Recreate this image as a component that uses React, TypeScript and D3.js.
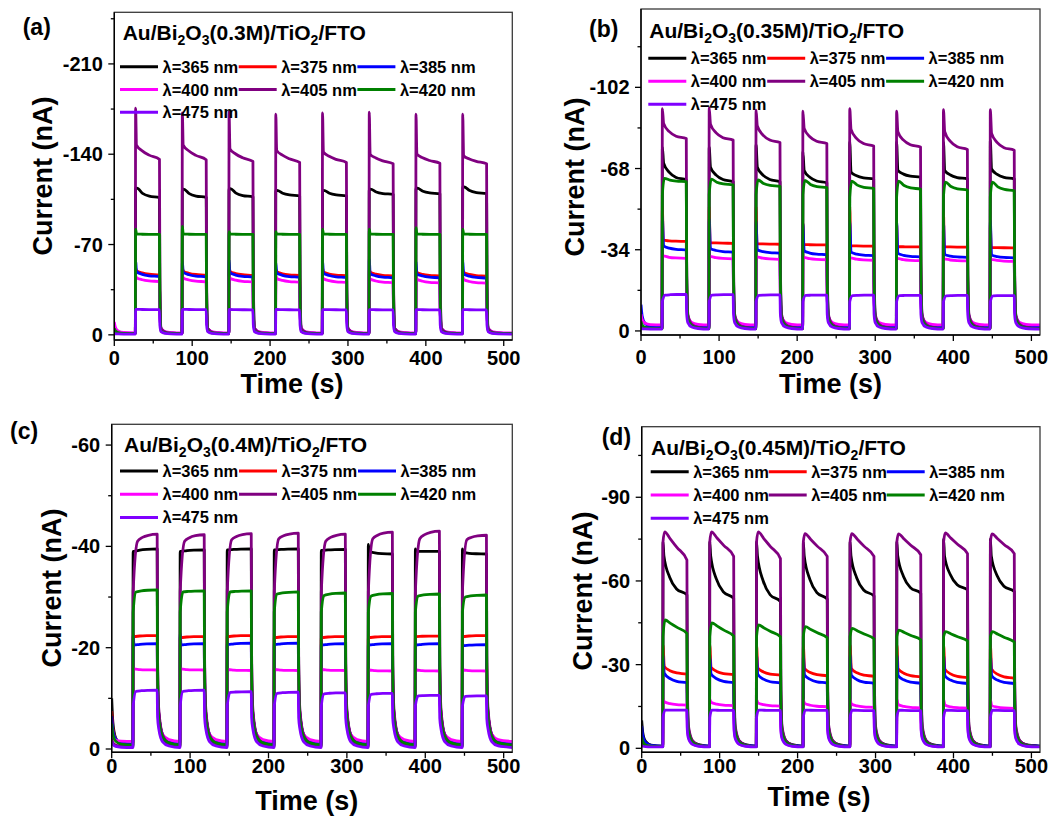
import React from "react";
import * as d3 from "d3";

// ---------- shared data ----------
const ON_TIMES = [27, 87, 147, 207, 267, 327, 387, 447];
const OFF_TIMES = [58, 118, 178, 238, 298, 358, 418, 478];
const T_MAX = 511;
const WAVELENGTHS = [365, 375, 385, 400, 405, 420, 475];
const SERIES_COLORS = ["#000000", "#ff0000", "#0000ff", "#ff00ff", "#800080", "#008000", "#8000ff"];
const X_TICKS = [0, 100, 200, 300, 400, 500];
const X_MINOR = [50, 150, 250, 350, 450];

// ---------- panel (a) 0.3M ----------
const A_CONC = "0.3M";
const A_Y_TICKS = [0, -70, -140, -210];
const A_Y_MINOR = [-35, -105, -175, -245];
const A_PROFILE = ["exp", "exp", "exp", "exp", "mid", "exp", "exp"];
const A_T1 = [2, 1.5, 1.5, 1.5, 1.5, 1.5, 1.5];
const A_SPIKE = [
  [-113.7, -113, -113.3, -112, -112, -113, -113.7, -114.7],
  [-52, -52, -51, -51, -52, -51, -51, -51],
  [-58, -57, -58, -56, -58, -59, -57, -58],
  [-46, -46, -45.5, -45.5, -45, -45, -45, -45],
  [-175.7, -172, -173, -171, -172, -172.6, -171, -171],
  [-82, -84, -80, -80, -82, -82, -83, -82],
  [-19.8, -19.8, -19.7, -19.7, -19.6, -19.6, -19.6, -19.6],
];
const A_START = [
  [-113.7, -113, -113.3, -112, -112, -113, -113.7, -114.7],
  [-49.8, -49.5, -49.2, -49, -48.8, -48.6, -48.5, -48.4],
  [-49, -48.5, -48.2, -48, -47.8, -47.5, -47.3, -47.2],
  [-44.4, -44.2, -44, -43.8, -43.6, -43.4, -43.2, -43],
  [-147, -147, -144, -143, -141.6, -140, -140, -138.8],
  [-78.2, -78.2, -78.2, -78.2, -78.2, -78.2, -78.2, -78.2],
  [-19.8, -19.8, -19.7, -19.7, -19.6, -19.6, -19.6, -19.6],
];
const A_END = [
  [-106.4, -106.6, -107, -107.8, -107.8, -108.9, -109.4, -109.4],
  [-46.5, -46.3, -46.1, -46, -45.8, -45.7, -45.6, -45.5],
  [-45.2, -45, -44.8, -44.6, -44.5, -44.3, -44.2, -44],
  [-41.3, -41.1, -41, -40.8, -40.6, -40.4, -40.2, -40],
  [-136, -135.7, -134.4, -133.6, -133.6, -132.6, -133, -132.6],
  [-77.8, -77.8, -77.8, -77.8, -77.8, -77.8, -77.8, -77.8],
  [-19.5, -19.5, -19.4, -19.4, -19.4, -19.3, -19.3, -19.3],
];
const A_TAIL = [-4, -5, -5, -5, -5, -3, -2.5];
const A_BASE = [-1, -1, -1, -1.5, -1, -1, -0.6];
const A_INIT = [-3, -3, -4, -10, -2, -5, -1];

// ---------- panel (b) 0.35M ----------
const B_CONC = "0.35M";
const B_Y_TICKS = [0, -34, -68, -102];
const B_Y_MINOR = [-17, -51, -85, -119];
const B_PROFILE = ["exp", "exp", "exp", "exp", "exp", "rise", "rise"];
const B_T1 = [2, 1.5, 2, 1.5, 2, 3, 4];
const B_SPIKE = [
  [-77, -77, -78, -75, -79, -79, -79, -80],
  [-52, -52, -52, -45, -52, -45, -50, -45],
  [-47.8, -47, -46, -45, -46, -46, -46, -46.4],
  [-31.4, -31.2, -31, -30.8, -30.6, -30.4, -30.2, -30],
  [-93.1, -93.4, -92.4, -92, -93.1, -92, -92.7, -92.7],
  [-57, -57, -57, -57, -56, -56, -56, -56],
  [-12.3, -12.3, -12.3, -12.3, -12.3, -12.3, -12.3, -12.3],
];
const B_START = [
  [-70.3, -68.6, -68.6, -67.2, -66.5, -67.2, -67.2, -67.8],
  [-38, -37, -36.6, -36.2, -35.7, -35.3, -35.3, -35],
  [-35.6, -34.5, -34, -33.5, -33, -32.5, -32, -31.8],
  [-31.4, -31.2, -31, -30.8, -30.6, -30.4, -30.2, -30],
  [-86.9, -86.6, -85.8, -84.8, -84.4, -83.4, -83.4, -82.7],
  [-63.9, -63.6, -63.2, -63, -62.7, -62.7, -62.3, -62.3],
  [-15, -15, -14.9, -14.9, -14.8, -14.8, -14.7, -14.7],
];
const B_END = [
  [-63.2, -62.5, -62.5, -62, -63.7, -64.4, -63.7, -63.7],
  [-37.5, -36.7, -36.3, -36, -35.5, -35.2, -35.1, -34.8],
  [-33.9, -33, -32.6, -31.9, -31.5, -31, -30.8, -30.6],
  [-30.4, -30.2, -30, -29.8, -29.6, -29.4, -29.3, -29.1],
  [-80.6, -79.9, -78.9, -78.5, -77.4, -77, -76, -75.7],
  [-62.5, -61.2, -60.5, -60, -59.7, -59.4, -59, -58.7],
  [-15.3, -15.2, -15.1, -15, -15, -14.9, -14.9, -14.8],
];
const B_TAIL = [-6, -5, -6, -6, -7, -5, -3.5];
const B_BASE = [-1, -1, -1.5, -2.5, -1, -1, -0.8];
const B_INIT = [-3, -3, -11, -7, -2, -4, -1];

// ---------- panel (c) 0.4M ----------
const C_CONC = "0.4M";
const C_Y_TICKS = [0, -20, -40, -60];
const C_Y_MINOR = [-10, -30, -50];
const C_PROFILE = ["exp", "exp", "exp", "exp", "rise", "rise", "rise"];
const C_T1 = [1.5, 1.5, 1.5, 1.5, 6, 4, 4];
const C_SPIKE = [
  [-39, -39, -39.3, -39.3, -39.2, -40.4, -39.5, -39.5],
  [-22.6, -22.4, -22.6, -22.4, -22.4, -22.4, -22.6, -22.6],
  [-22.5, -22.8, -21, -21, -21, -21, -21, -21],
  [-15.8, -15.8, -15.7, -15.7, -15.7, -15.6, -15.6, -15.6],
  [-31, -31, -31, -31, -31, -31, -31, -31],
  [-27, -27, -27, -27, -27, -27, -27, -27],
  [-8.5, -8.5, -8.5, -8.5, -8.5, -8.5, -8.5, -8.5],
];
const C_START = [
  [-39, -39, -39.3, -39.3, -39.2, -39, -39, -38.8],
  [-22.2, -22, -22.2, -22, -22, -22, -22.2, -22.2],
  [-20.5, -20.5, -20.6, -20.6, -20.5, -20.5, -20.5, -20.4],
  [-15.8, -15.8, -15.7, -15.7, -15.7, -15.6, -15.6, -15.6],
  [-41, -41, -41.3, -41.5, -41, -41.5, -41.5, -41.3],
  [-31, -31, -31, -30.6, -30.3, -30.2, -30.2, -30],
  [-11.4, -11.4, -11.2, -11, -10.9, -10.8, -10.5, -10.4],
];
const C_END = [
  [-39.5, -39.3, -39.5, -39.5, -39.4, -38.5, -39, -38.5],
  [-22.4, -22.2, -22.4, -22.2, -22.2, -22.2, -22.3, -22.4],
  [-20.8, -20.8, -20.9, -20.9, -20.8, -20.8, -20.8, -20.6],
  [-15.6, -15.6, -15.5, -15.5, -15.5, -15.4, -15.4, -15.4],
  [-42.4, -42.3, -42.5, -42.6, -42.4, -42.8, -43, -42.2],
  [-31.4, -31.2, -31.2, -31, -30.8, -30.7, -30.6, -30.4],
  [-11.6, -11.6, -11.3, -11.2, -11.1, -11, -10.6, -10.5],
];
const C_TAIL = [-7, -7, -7, -6, -8, -6, -4];
const C_BASE = [-0.5, -0.8, -1, -1.5, -0.5, -0.8, -0.3];
const C_INIT = [-10, -7.5, -6.5, -3, -2, -5, -1.5];

// ---------- panel (d) 0.45M ----------
const D_CONC = "0.45M";
const D_Y_TICKS = [0, -30, -60, -90];
const D_Y_MINOR = [-15, -45, -75, -105];
const D_PROFILE = ["exp", "exp", "exp", "exp", "lin", "lin", "rise"];
const D_T1 = [1.5, 2, 2, 2, 2.5, 3, 3];
const D_SPIKE = [
  [-74, -74, -74, -74, -74, -74, -75, -75],
  [-37, -37, -37, -37, -37, -37, -37, -37],
  [-33.4, -33.4, -33.4, -33.4, -33.4, -33.4, -33.4, -33.4],
  [-17.5, -17.5, -17.5, -17.5, -17.5, -17.5, -17.5, -17.5],
  [-74, -74, -74, -74, -74, -74, -74, -74],
  [-40, -40, -40, -40, -40, -40, -40, -40],
  [-11, -11, -11, -11, -11, -11, -11, -11],
];
const D_START = [
  [-69, -69, -69, -69, -69, -69, -69, -69],
  [-29.3, -29, -28.8, -28.6, -28.6, -28.5, -28.4, -28.4],
  [-26.9, -26.7, -26.5, -26.3, -26.2, -26.1, -26, -26],
  [-16.7, -16.5, -16.3, -16.1, -15.9, -15.7, -15.5, -15.3],
  [-77.6, -77.6, -77.6, -77, -77, -76.9, -77.2, -76.9],
  [-46, -45, -44.2, -43.6, -43, -42.4, -41.8, -41.8],
  [-13.7, -13.7, -13.7, -13.7, -13.7, -13.7, -13.7, -13.7],
];
const D_END = [
  [-55, -53.8, -52.6, -53.5, -54.6, -55.6, -56.8, -56.2],
  [-26.6, -26.4, -26.2, -26, -25.8, -25.6, -25.3, -25.1],
  [-23.5, -23.5, -23.4, -23.4, -23.3, -23.3, -23.2, -23.2],
  [-15.5, -15.3, -15.1, -14.9, -14.7, -14.5, -14.4, -14.3],
  [-67.5, -68.8, -68, -68.8, -68.8, -69.4, -69.8, -69.8],
  [-41.2, -40.2, -40, -39.6, -39.3, -38.9, -38.5, -38.1],
  [-13.7, -13.6, -13.6, -13.6, -13.5, -13.5, -13.5, -13.5],
];
const D_TAIL = [-7, -5, -5, -4, -8, -6, -3.5];
const D_BASE = [-0.8, -0.6, -0.8, -0.6, -0.6, -0.6, -0.5];
const D_INIT = [-10, -4, -8, -3, -2, -4, -1];

// ---------- shape helpers ----------
const SHAPE_FRAC: Record<string, [number, number]> = {
  exp: [0.55, 0.85],
  mid: [0.4, 0.7],
  lin: [0.25, 0.55],
  rise: [0.55, 0.85],
};

type PanelData = {
  conc: string;
  yTicks: number[];
  yMinor: number[];
  profile: string[];
  t1: number[];
  spike: number[][];
  start: number[][];
  end: number[][];
  tail: number[];
  base: number[];
  init: number[];
};

function buildSeries(p: PanelData, s: number): [number, number][] {
  const base = p.base[s];
  const init = p.init[s];
  const tail = p.tail[s];
  const pts: [number, number][] = [
    [0, init],
    [1.5, base + (init - base) * 0.5],
    [5, base + (init - base) * 0.18],
    [12, base + (init - base) * 0.04],
    [ON_TIMES[0], base],
  ];
  const [f1, f2] = SHAPE_FRAC[p.profile[s]];
  const t1 = p.t1[s];
  ON_TIMES.forEach((on, k) => {
    const off = OFF_TIMES[k];
    const sp = p.spike[s][k];
    const st = p.start[s][k];
    const en = p.end[s][k];
    const span = off - on - t1;
    pts.push(
      [on + 0.35, sp],
      [on + t1, st],
      [on + t1 + span * 0.25, st + (en - st) * f1],
      [on + t1 + span * 0.55, st + (en - st) * f2],
      [off, en]
    );
    const next = k < ON_TIMES.length - 1 ? ON_TIMES[k + 1] : T_MAX;
    pts.push(
      [off + 0.5, tail + (en - tail) * 0.3],
      [off + 2, tail],
      [off + 7, base + (tail - base) * 0.3],
      [off + 15, base + (tail - base) * 0.08],
      [next, base]
    );
  });
  return pts;
}

const PANELS: { data: PanelData; layout: any }[] = [
  {
    data: { conc: A_CONC, yTicks: A_Y_TICKS, yMinor: A_Y_MINOR, profile: A_PROFILE, t1: A_T1, spike: A_SPIKE, start: A_START, end: A_END, tail: A_TAIL, base: A_BASE, init: A_INIT },
    layout: { id: "a", left: 114.3, right: 512.3, top: 12.3, bottom: 340, yDomain: [4, -250], xTickY: 364.5, xTitle: [292, 393], yTitle: [43, 176], label: [22.7, 35], title: [122.7, 40], legend: [120, 118.7, 66.7, 22.8] },
  },
  {
    data: { conc: B_CONC, yTicks: B_Y_TICKS, yMinor: B_Y_MINOR, profile: B_PROFILE, t1: B_T1, spike: B_SPIKE, start: B_START, end: B_END, tail: B_TAIL, base: B_BASE, init: B_INIT },
    layout: { id: "b", left: 641, right: 1040, top: 9, bottom: 335, yDomain: [1.7, -134.8], xTickY: 364, xTitle: [830.5, 393], yTitle: [575, 177], label: [589, 36.5], title: [649.3, 37.7], legend: [648.3, 118.9, 58.3, 23] },
  },
  {
    data: { conc: C_CONC, yTicks: C_Y_TICKS, yMinor: C_Y_MINOR, profile: C_PROFILE, t1: C_T1, spike: C_SPIKE, start: C_START, end: C_END, tail: C_TAIL, base: C_BASE, init: C_INIT },
    layout: { id: "c", left: 111.7, right: 512.3, top: 424.3, bottom: 752.3, yDomain: [0.65, -64.1], xTickY: 772.5, xTitle: [306.7, 810], yTitle: [51.7, 588], label: [10, 438.5], title: [124, 452.3], legend: [120, 119, 471, 23.2] },
  },
  {
    data: { conc: D_CONC, yTicks: D_Y_TICKS, yMinor: D_Y_MINOR, profile: D_PROFILE, t1: D_T1, spike: D_SPIKE, start: D_START, end: D_END, tail: D_TAIL, base: D_BASE, init: D_INIT },
    layout: { id: "d", left: 641.7, right: 1040, top: 426.7, bottom: 752.3, yDomain: [1.43, -115.3], xTickY: 773, xTitle: [819, 806], yTitle: [582.5, 591], label: [601.7, 445], title: [651, 455], legend: [650.7, 118, 471.7, 23.3] },
  },
];

const FONT = "'Liberation Sans', Arial, Helvetica, sans-serif";

function Panel({ data, layout }: { data: PanelData; layout: any }) {
  const L = layout;
  const x = d3.scaleLinear().domain([0, T_MAX]).range([L.left, L.right]);
  const y = d3.scaleLinear().domain(L.yDomain).range([L.bottom, L.top]);
  const line = d3
    .line<[number, number]>()
    .x((d) => x(d[0]))
    .y((d) => y(d[1]))
    .curve(d3.curveMonotoneX);
  const clipId = `clip-${L.id}`;
  const [lx0, ldx, ly0, ldy] = L.legend;
  return (
    <g>
      <defs>
        <clipPath id={clipId}>
          <rect x={L.left} y={L.top} width={L.right - L.left} height={L.bottom - L.top} />
        </clipPath>
      </defs>
      <g clipPath={`url(#${clipId})`}>
        {WAVELENGTHS.map((w, s) => (
          <path
            key={w}
            d={line(buildSeries(data, s)) || ""}
            fill="none"
            stroke={SERIES_COLORS[s]}
            strokeWidth={2.8}
            strokeLinejoin="round"
          />
        ))}
      </g>
      {/* frame */}
      <rect x={L.left} y={L.top} width={L.right - L.left} height={L.bottom - L.top} fill="none" stroke="#3a3a3a" strokeWidth={1.3} />
      <line x1={L.left} x2={L.left} y1={L.top} y2={L.bottom} stroke="#000" strokeWidth={1.4} />
      <line x1={L.left} x2={L.right} y1={L.bottom} y2={L.bottom} stroke="#000" strokeWidth={1.4} />
      {/* x ticks */}
      {X_TICKS.map((t) => (
        <g key={`xt${t}`}>
          <line x1={x(t)} x2={x(t)} y1={L.bottom} y2={L.bottom + 6} stroke="#000" strokeWidth={1.3} />
          <text x={x(t)} y={L.xTickY} textAnchor="middle" fontFamily={FONT} fontWeight="bold" fontSize={20}>
            {String(t)}
          </text>
        </g>
      ))}
      {X_MINOR.map((t) => (
        <line key={`xm${t}`} x1={x(t)} x2={x(t)} y1={L.bottom} y2={L.bottom + 3.5} stroke="#000" strokeWidth={1.3} />
      ))}
      {/* y ticks */}
      {data.yTicks.map((t) => (
        <g key={`yt${t}`}>
          <line x1={L.left - 6} x2={L.left} y1={y(t)} y2={y(t)} stroke="#000" strokeWidth={1.3} />
          <text x={L.left - 11.5} y={y(t) + 7} textAnchor="end" fontFamily={FONT} fontWeight="bold" fontSize={20}>
            {String(t)}
          </text>
        </g>
      ))}
      {data.yMinor.map((t) => (
        <line key={`ym${t}`} x1={L.left - 3.5} x2={L.left} y1={y(t)} y2={y(t)} stroke="#000" strokeWidth={1.3} />
      ))}
      {/* axis titles */}
      <text x={L.xTitle[0]} y={L.xTitle[1]} textAnchor="middle" fontFamily={FONT} fontWeight="bold" fontSize={27}>
        Time (s)
      </text>
      <text
        transform={`translate(${L.yTitle[0]},${L.yTitle[1]}) rotate(-90)`}
        textAnchor="middle"
        dominantBaseline="central"
        fontFamily={FONT}
        fontWeight="bold"
        fontSize={27}
      >
        Current (nA)
      </text>
      {/* panel label */}
      <text x={L.label[0]} y={L.label[1]} fontFamily={FONT} fontWeight="bold" fontSize={23}>
        ({L.id})
      </text>
      {/* sample title */}
      <text x={L.title[0]} y={L.title[1]} fontFamily={FONT} fontWeight="bold" fontSize={21}>
        <tspan>Au/Bi</tspan>
        <tspan fontSize={14} dy={5}>2</tspan>
        <tspan dy={-5}>O</tspan>
        <tspan fontSize={14} dy={5}>3</tspan>
        <tspan dy={-5}>{`(${data.conc})/TiO`}</tspan>
        <tspan fontSize={14} dy={5}>2</tspan>
        <tspan dy={-5}>/FTO</tspan>
      </text>
      {/* legend */}
      {WAVELENGTHS.map((w, s) => {
        const col = s % 3;
        const row = Math.floor(s / 3);
        const lx = lx0 + col * ldx;
        const ly = ly0 + row * ldy;
        return (
          <g key={`lg${w}`}>
            <line x1={lx} x2={lx + 38} y1={ly} y2={ly} stroke={SERIES_COLORS[s]} strokeWidth={3} />
            <text x={lx + 42.5} y={ly + 6} fontFamily={FONT} fontWeight="bold" fontSize={16.5}>
              {`λ=${w} nm`}
            </text>
          </g>
        );
      })}
    </g>
  );
}

export default function App() {
  return (
    <svg
      width={1062}
      height={818}
      viewBox="0 0 1062 818"
      style={{ position: "absolute", left: 0, top: 0, background: "#fff" }}
    >
      <rect width={1062} height={818} fill="#fff" />
      {PANELS.map((p) => (
        <Panel key={p.layout.id} data={p.data} layout={p.layout} />
      ))}
    </svg>
  );
}
